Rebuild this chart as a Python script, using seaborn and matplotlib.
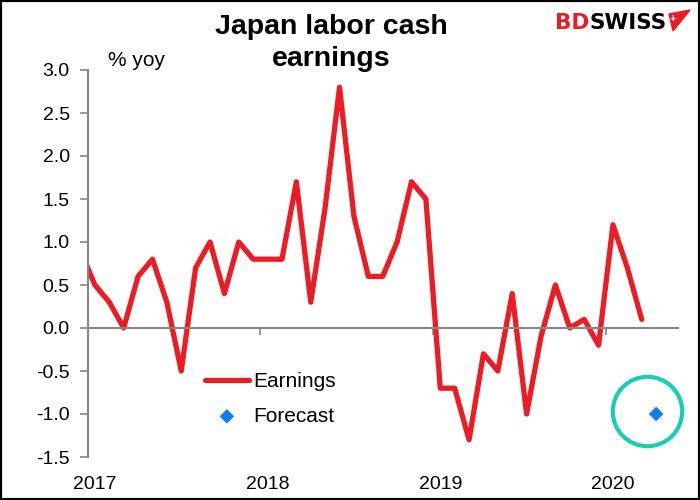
import numpy as np
import pandas as pd
import matplotlib
matplotlib.use("Agg")
import matplotlib.pyplot as plt
import seaborn as sns
from matplotlib.patches import Polygon, Rectangle

# ---- data (month index: 0 = Jan 2017) ----
month_index = list(range(-1, 39))  # Dec 2016 .. Mar 2020
earnings = [0.9,
            0.5, 0.3, 0.0, 0.6, 0.8, 0.3, -0.5, 0.7, 1.0, 0.4, 1.0, 0.8,
            0.8, 0.8, 1.7, 0.3, 1.4, 2.8, 1.3, 0.6, 0.6, 1.0, 1.7, 1.5,
            -0.7, -0.7, -1.3, -0.3, -0.5, 0.4, -1.0, -0.1, 0.5, 0.0, 0.1, -0.2,
            1.2, 0.7, 0.1]
forecast_index = [39]   # Apr 2020
forecast = [-1.0]
year_labels = ["2017", "2018", "2019", "2020"]
year_positions = [0, 12, 24, 36]
year_boundaries = [-0.5, 11.5, 23.5, 35.5]
y_ticks = [-1.5, -1.0, -0.5, 0.0, 0.5, 1.0, 1.5, 2.0, 2.5, 3.0]

df = pd.DataFrame({"month": month_index, "Earnings": earnings})
df_fc = pd.DataFrame({"month": forecast_index, "Forecast": forecast})

sns.set_theme(style="white")
plt.rcParams["font.family"] = ["Liberation Sans", "DejaVu Sans"]
plt.rcParams["text.color"] = "black"
plt.rcParams["xtick.color"] = "black"
plt.rcParams["ytick.color"] = "black"
plt.rcParams["axes.labelcolor"] = "black"

RED = "#ED1C24"
BLUE = "#0A7CFF"
TEAL = "#17CFB0"
GRAY = "#868686"

fig = plt.figure(figsize=(7, 5), dpi=100)
ax = fig.add_axes([87.7 / 700, 1 - 457 / 500, (677.7 - 87.7) / 700, (457 - 70) / 500])

sns.lineplot(data=df, x="month", y="Earnings", ax=ax, color=RED,
             linewidth=3.8, label="Earnings")
# highlight circle around forecast
ax.plot([forecast_index[0] - 0.6], [forecast[0] + 0.03], marker="o",
        markersize=50, markerfacecolor="none", markeredgecolor=TEAL,
        markeredgewidth=3, linestyle="none", label="_nolegend_", clip_on=False)
sns.scatterplot(data=df_fc, x="month", y="Forecast", ax=ax, marker="D",
                color=BLUE, s=55, edgecolor="none", label="Forecast", zorder=5)

ax.set_xlim(-0.5, 40.5)
ax.set_ylim(-1.5, 3.0)
ax.set_xlabel("")
ax.set_ylabel("")

ax.set_yticks(y_ticks)
ax.set_yticklabels([f"{v:.1f}" for v in y_ticks])
ax.tick_params(axis="y", length=6, width=1.2, color=GRAY, pad=7,
               labelsize=14, left=True, direction="out", labelcolor="black")

ax.spines["bottom"].set_position(("data", 0))
for s in ["top", "right"]:
    ax.spines[s].set_visible(False)
for s in ["left", "bottom"]:
    ax.spines[s].set_color(GRAY)
    ax.spines[s].set_linewidth(1.5)

ax.set_xticks(year_boundaries)
ax.set_xticklabels([])
ax.tick_params(axis="x", length=5, width=1.2, color=GRAY, bottom=True,
               direction="out")

sec = ax.secondary_xaxis(0.0)
sec.set_xticks(year_positions)
sec.set_xticklabels(year_labels)
sec.tick_params(length=0, pad=14, labelsize=14, labelcolor="black")
sec.spines["bottom"].set_visible(False)

leg = ax.legend(loc="center left", bbox_to_anchor=(205 / 700, 1 - 399 / 500),
                bbox_transform=fig.transFigure, frameon=False, fontsize=15,
                handlelength=2.1, handletextpad=0.2, borderpad=0,
                borderaxespad=0, labelspacing=0.75)
for t in leg.get_texts():
    t.set_color("black")

fig.text(108 / 700, 1 - 61 / 500, "% yoy", fontsize=15, va="center", ha="left")
fig.text(331 / 700, 1 - 43 / 500, "Japan labor cash\nearnings", fontsize=20.5,
         fontweight="bold", ha="center", va="center", linespacing=1.3,
         color="black")

# logo
bd = fig.text(555 / 700, 1 - 29 / 500, "BD", color=RED, fontsize=15.5,
              fontweight="bold", family=["DejaVu Sans"], va="baseline")
ax.annotate("SWISS", xy=(1, 0), xycoords=bd, va="bottom", ha="left",
            fontsize=15.5, fontweight="bold", family=["DejaVu Sans"], color="black",
            annotation_clip=False)
px = lambda x, y: (x / 700, 1 - y / 500)
fig.patches.append(Polygon([px(669, 14), px(690, 10), px(673, 31)], closed=True,
                           transform=fig.transFigure, color=RED))
fig.text(672.5 / 700, 1 - 19 / 500, "+", color="white", fontsize=8,
         fontweight="bold", ha="center", va="center")

fig.patches.append(Rectangle((0, 0), 1, 1, transform=fig.transFigure,
                             fill=False, edgecolor="black", linewidth=3))

fig.savefig("out.png", dpi=100)
